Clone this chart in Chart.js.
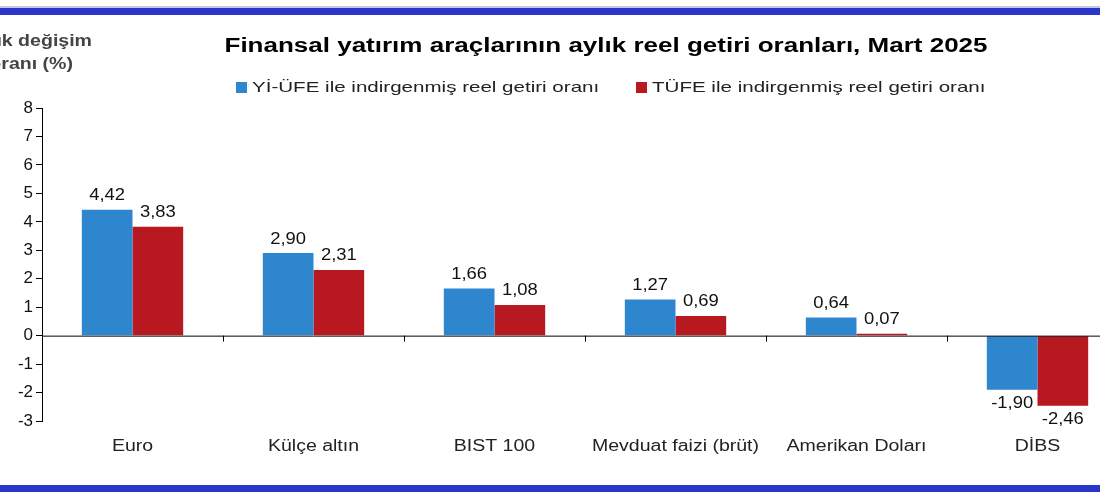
<!DOCTYPE html>
<html><head><meta charset="utf-8">
<script src="https://cdn.jsdelivr.net/npm/chart.js@4"></script>
<style>html,body{margin:0;padding:0;overflow:hidden;background:#fff;width:1100px;height:499px}
#w{position:absolute;left:0;top:0;width:1140px;height:499px}</style></head>
<body><div id="w"><canvas id="c" width="1140" height="499"></canvas></div>
<script>
const categories=["Euro","Külçe altın","BIST 100","Mevduat faizi (brüt)","Amerikan Doları","DİBS"];
const yiufe=[4.42,2.90,1.66,1.27,0.64,-1.90];
const tufe=[3.83,2.31,1.08,0.69,0.07,-2.46];
const seriesNames=["Yİ-ÜFE ile indirgenmiş reel getiri oranı","TÜFE ile indirgenmiş reel getiri oranı"];
const FONT="'Liberation Sans', Arial, sans-serif";
const fmt=v=>v.toFixed(2).replace('.',',');
function st(c,t,x,y,align,sx){c.save();c.translate(x,y);c.scale(sx,1);c.textAlign=align;c.fillText(t,0,0);c.restore();}
const deco={id:'deco',afterDraw(ch){
 const c=ch.ctx,a=ch.chartArea,x=ch.scales.x,y=ch.scales.y;
 c.save();
 c.fillStyle='#2a35c9';c.fillRect(0,8,1140,7);c.fillRect(0,485,1140,7);
 c.fillStyle='#c8c8d8';c.fillRect(0,6,1140,2);
 c.textBaseline='middle';
 c.fillStyle='#000';c.font="bold 20px "+FONT;
 st(c,'Finansal yatırım araçlarının aylık reel getiri oranları, Mart 2025',606,46,'center',1.3);
 c.font="15px "+FONT;
 const cols=ch.data.datasets.map(d=>d.backgroundColor);
 c.fillStyle=cols[0];c.fillRect(236,82,11,11);
 c.fillStyle='#222';st(c,seriesNames[0],252,88,'left',1.37);
 c.fillStyle=cols[1];c.fillRect(636,82,11,11);
 c.fillStyle='#222';st(c,seriesNames[1],652,88,'left',1.37);
 c.font="bold 17px "+FONT;c.fillStyle='#444';
 st(c,'Aylık değişim',92,41,'right',1.15);st(c,'oranı (%)',73,64,'right',1.15);
 // x labels
 c.font="16px "+FONT;c.fillStyle='#222';
 categories.forEach((l,i)=>st(c,l,x.getPixelForValue(i),447,'center',1.22));
 // zero line
 const y0=y.getPixelForValue(0);
 c.strokeStyle='#000';c.lineWidth=1;c.beginPath();c.moveTo(a.left,y0+0.5);c.lineTo(a.right,y0+0.5);
 const step=(a.right-a.left)/categories.length;
 for(let i=1;i<=categories.length;i++){const xx=Math.round(a.left+i*step)+0.5;c.moveTo(xx,y0);c.lineTo(xx,y0+6);}
 c.stroke();
 // value labels
 c.font="16px "+FONT;c.fillStyle='#111';
 ch.data.datasets.forEach((d,di)=>{ch.getDatasetMeta(di).data.forEach((b,i)=>{
  const v=d.data[i];
  c.textBaseline=v>=0?'bottom':'top';
  st(c,fmt(v),b.x,v>=0?b.y-6:b.y+6,'center',1.15);
 });});
 c.restore();
}};
new Chart(document.getElementById('c'),{type:'bar',
 data:{labels:categories,datasets:[
  {label:seriesNames[0],data:yiufe,backgroundColor:'#2e86cf',categoryPercentage:0.56,barPercentage:1},
  {label:seriesNames[1],data:tufe,backgroundColor:'#b8181f',categoryPercentage:0.56,barPercentage:1}]},
 options:{responsive:false,animation:false,
  layout:{padding:{top:108,right:12,left:0,bottom:0}},
  plugins:{legend:{display:false},title:{display:false},tooltip:{enabled:false}},
  scales:{
   x:{grid:{display:false,drawTicks:false},border:{display:false},
      ticks:{display:false},
      afterFit(s){s.height=78;}},
   y:{min:-3,max:8,grid:{display:true,drawOnChartArea:false,drawTicks:true,tickLength:6,color:'#000'},border:{display:true,color:'#000'},
      ticks:{stepSize:1,color:'#111',font:{family:FONT,size:17},padding:3},
      afterFit(s){s.width=42;}}
  }},
 plugins:[deco]});
</script></body></html>
